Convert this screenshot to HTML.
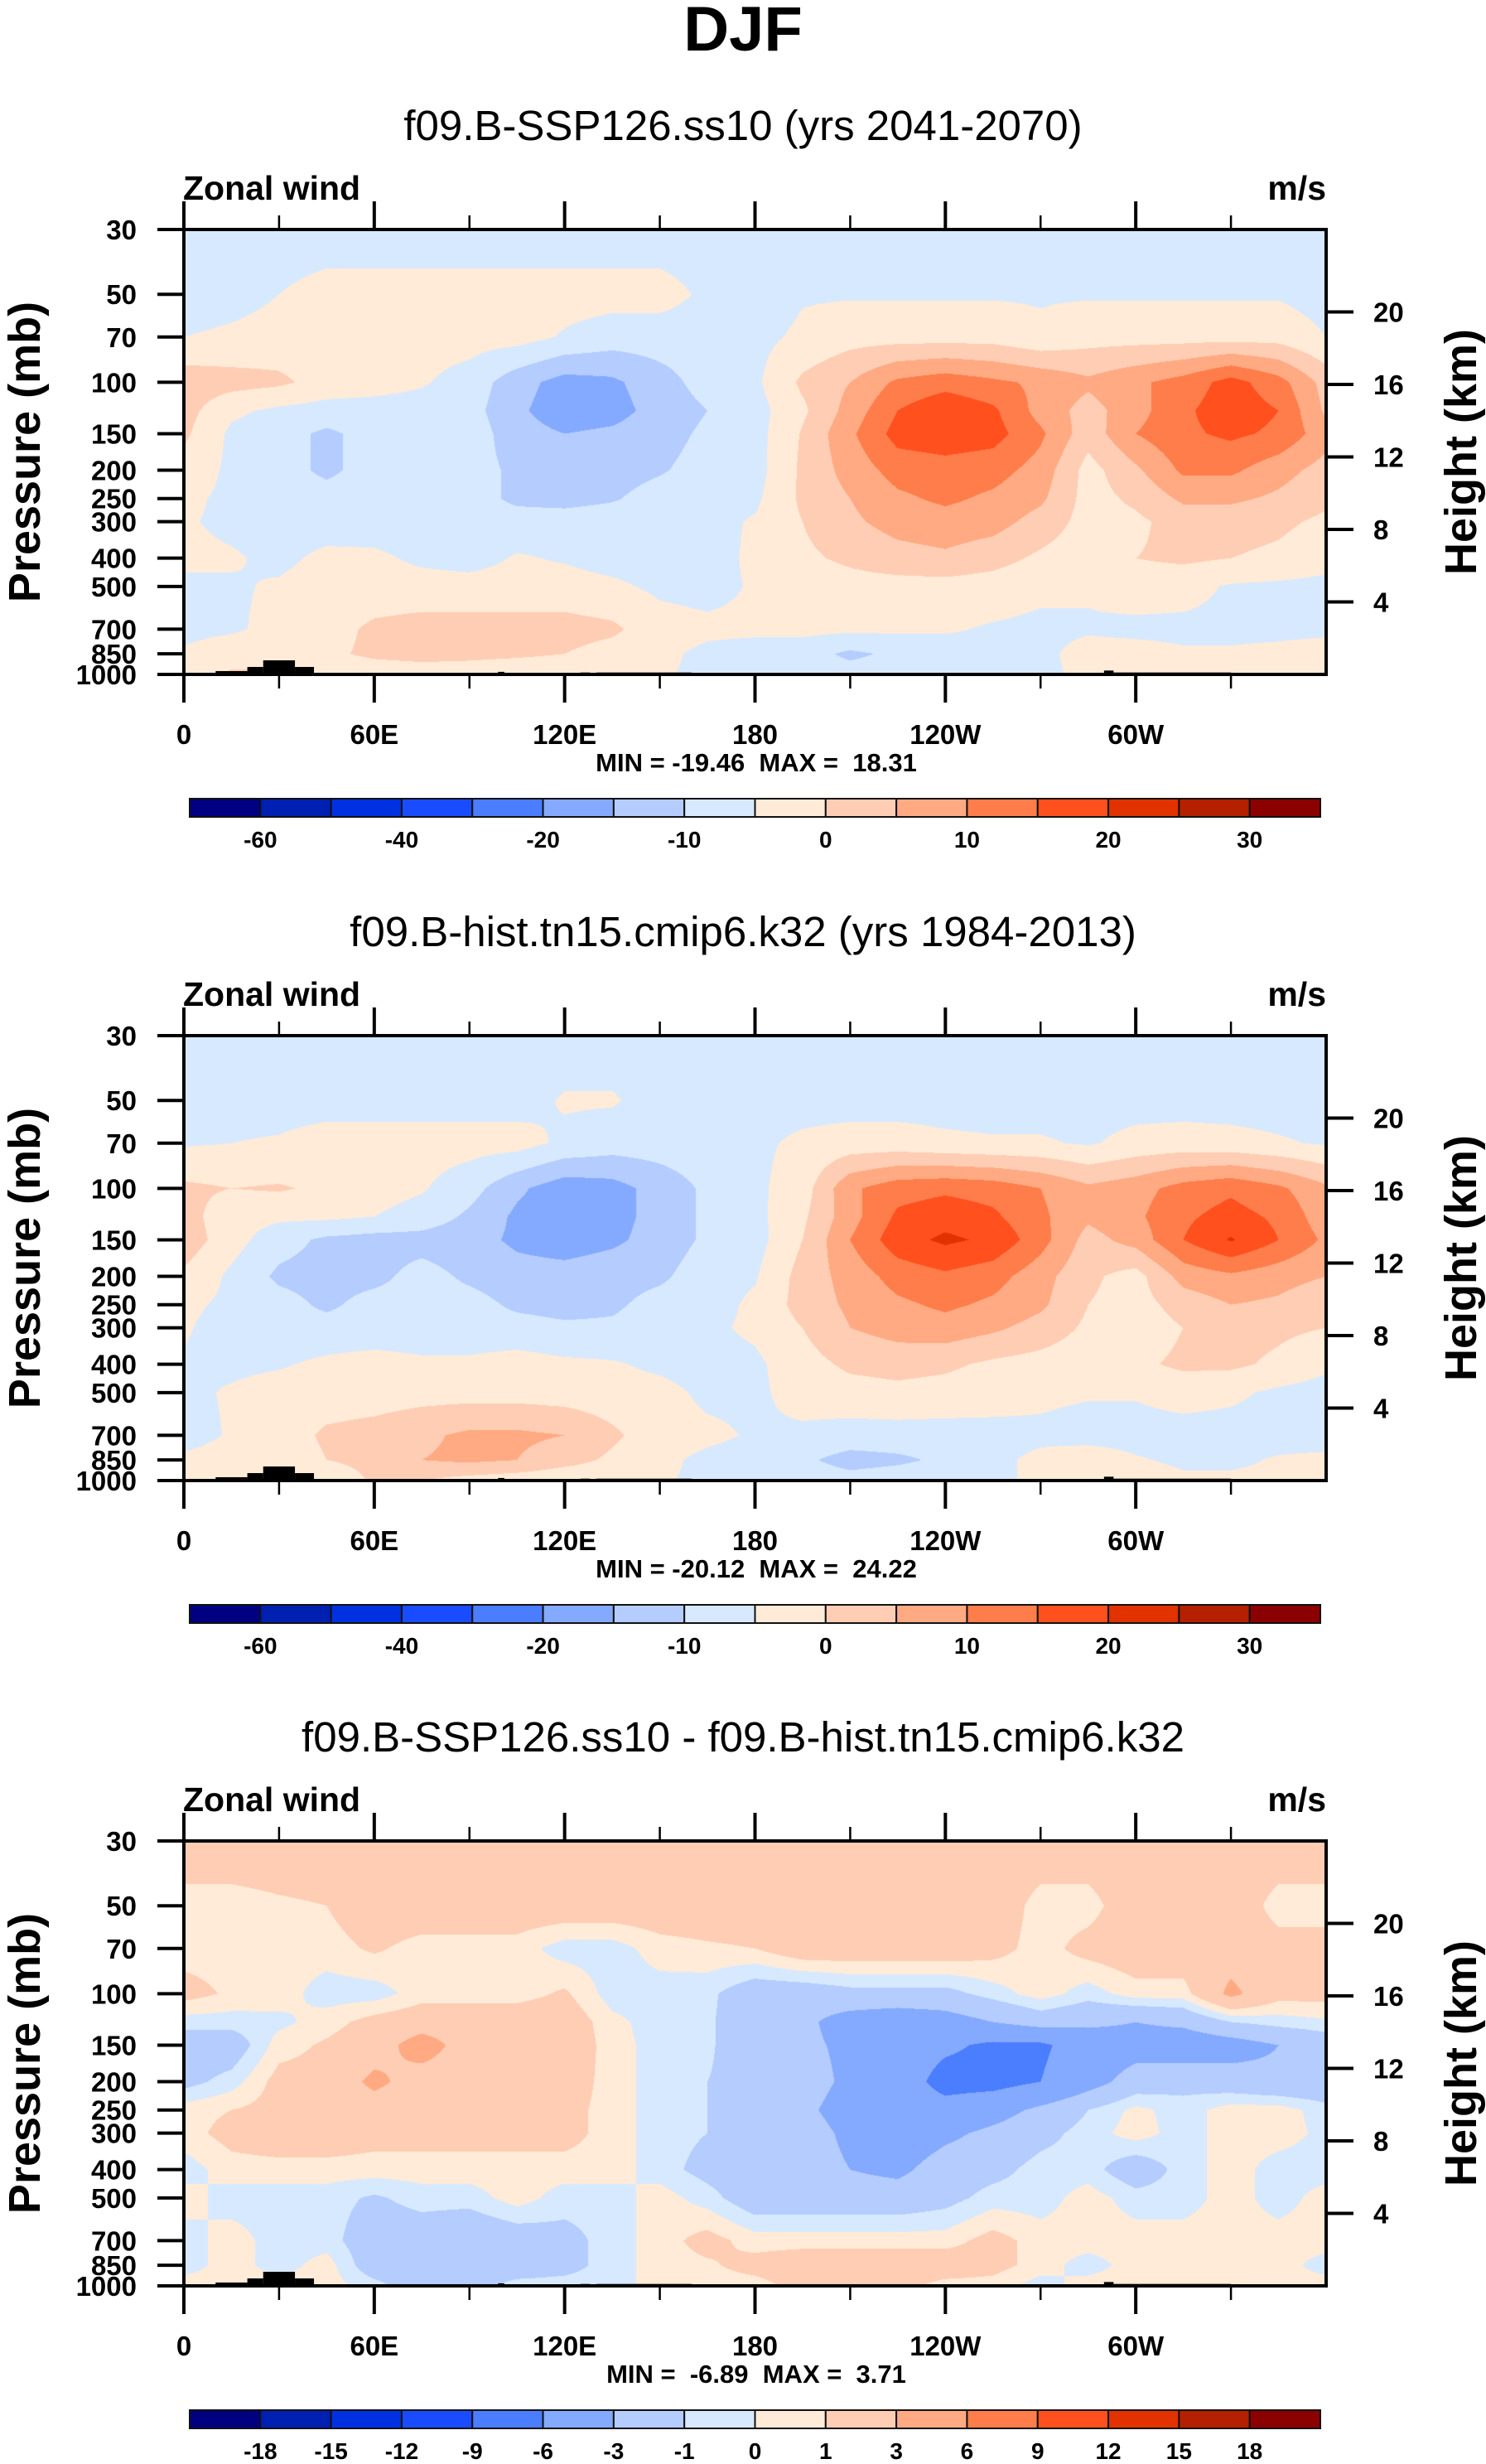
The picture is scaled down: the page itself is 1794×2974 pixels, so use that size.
<!DOCTYPE html>
<html>
<head>
<meta charset="utf-8">
<style>
html,body{margin:0;padding:0;background:#fff;}
body{width:1794px;height:2974px;position:relative;overflow:hidden;font-family:"Liberation Sans",sans-serif;}
canvas{position:absolute;}
#overlay{position:absolute;left:0;top:0;}
</style>
</head>
<body>
<canvas id="f0" width="1379" height="537" style="left:222px;top:277px"></canvas>
<canvas id="f1" width="1379" height="537" style="left:222px;top:1250px"></canvas>
<canvas id="f2" width="1379" height="537" style="left:222px;top:2222px"></canvas>
<svg id="overlay" width="1794" height="2974" xmlns="http://www.w3.org/2000/svg">
<text x="897" y="61" text-anchor="middle" font-family="Liberation Sans, sans-serif" font-weight="bold" font-size="76">DJF</text>
</svg>
<script>
// ---- data ----
const lons = [0,15,30,45,60,75,90,105,120,135,150,165,180,195,210,225,240,255,270,285,300,315,330,345,360];
const pLevels = [30,50,70,100,125,150,200,250,300,400,500,700,850,1000];

const uSsp = [
[-3,-3,-3,-3,-3,-3,-3,-3,-3,-3,-3,-3,-3,-3,-3,-3,-3,-3,-3,-3,-3,-3,-3,-3,-3],
[-3,-2,0,2,2,2,2,2,2,2,2,-1,-3,-0.5,-0.5,-0.5,-0.5,-0.5,-0.5,-0.5,-0.5,-0.5,-0.5,-0.5,-2],
[0,1,2,2,2,2,2,2,-0.5,-2.5,-2.5,-2.5,-1.5,1,3,3,3,3,1,3,3,3,3,3,0],
[8,7,6,3,2,0.5,-2,-8,-12,-11,-7,-3,-1,6,10,16,18,16,14,11,14,17,22,17,8],
[7,1,-1,-2,-2,-2,-3,-9,-13,-12,-8,-5,-2,4,12,20,24,21,13,8,13,19,23,20,9],
[6,-1,-3,-6,-3,-2,-2,-8,-10,-9,-7,-4,-2,5.5,14,22,23,22,16,7,15,19,21,19,12],
[3,-1,-3,-6,-3,-3,-3,-6,-8,-7,-5.5,-3,-2,6,12,17,18,17,13,3,9,16,16,12,8],
[1,-1,-3,-3,-3,-3,-3,-6,-6.5,-5.5,-3,-2,-1,6,10,14,16,14,11,3,6,11,11,9,6],
[0.5,-1,-2,-2,-2.5,-3,-3,-3,-3,-2.5,-2,-1.5,0.5,5,9,12,13,12,8,3,4,7,7,6,4],
[1,0.5,-1,1,1,-1,-2,0.5,-0.5,-2,-2.5,-2,1,4,6,8,9,7,4,2,5,6,5,4,2],
[-1,-0.5,0.5,2,2,2,2,2,2,1,-1,-1.5,0.5,2,3,3,3,2.5,1,0.5,2,1.5,-0.5,-1,-1.5],
[-1,-0.5,1,3,6,7,7,7,7,6,2,1,1,1.5,1,1,0.5,-0.5,-1,-0.5,-1,-1,-1,-1,-1],
[0.5,2,2.5,4,6,7,6.5,6,5,3,1,-1,-2,-3,-6,-4,-2,-1,-1,1.5,1.5,0.5,0.5,1,2],
[1,6,6,2,2,2,2,1,1,1,0.5,-1,-2,-2,-3,-2,-2,-1,-1,1,5,2,1,1,1]
];

const uHist = [
[-3,-3,-3,-3,-3,-3,-3,-3,-3,-3,-3,-3,-3,-3,-3,-3,-3,-3,-3,-3,-3,-3,-3,-3,-3],
[-2,-2,-2,-2,-2,-2,-2,-2,0.5,0.5,-2,-2,-2,-2,-2,-2,-2,-2,-2,-2,-2,-2,-2,-2,-2],
[-0.5,0,0.5,2,2,2,2,2,-1,-2.5,-2.5,-2,-1,1,2,2,1,0.5,0.5,-0.5,1.5,2,1.5,0.5,-0.5],
[6,5,5.5,4,2,0.5,-3,-9,-13,-12,-8,-4,-1,2.5,14,18,19,18,15,11,13,17,19,16,11],
[7,2,1,1,0,-2,-6,-11,-13,-12,-8,-4,-1.5,4,13,21,23,21,16,11,14,19,22,19,12],
[8,2,-3,-6,-7,-7,-8,-11,-12.5,-11,-8,-4,-2,5,15,23,26,24,17,8,12,20,25.5,20,14],
[4,-1,-6,-7,-6.5,-3,-6,-8,-8,-7,-6,-2,-0.5,7,12,17,19,17,12,6,3,12,14,12,10],
[1,-1,-3,-6,-3,-3,-3,-6,-7,-6,-3,-2,1,7,11,14,16,14,11,5,3,7,10,9,6],
[0.5,-2,-3,-3,-3,-3,-3,-3,-4,-4,-2,-1,1,5,10,12,13,11,8,4,2,5,7,6,5],
[-0.5,-1,-0.5,1,2,1,1,2,1,0.5,-1,-2,-1,3,6,7,6,4,3,2,4,6,6,4,1],
[-1,0.5,2,2,2.5,3,3,3,2.5,2,1.5,-1,-1,2,3,3.5,3,2,1,0.5,0.5,2,1,-1,-2],
[-2,0.5,2,6,7,9,11,11,10,6,2,1,-0.5,-1,-2,-2,-2,-1.5,-1,-2,-2,-2,-2,-2,-2],
[1,2,1,5,7,10,11,10,7,4,1,-1,-2,-4,-7,-6,-4,-1,1,3,0.5,-1,-1,0.5,1],
[2,4,5,0,6,5,3,2,1,1,0.5,-1,-2,-2,-3,-2,-2,-1,1,2,3,1,1,1,1]
];

const uDiff = [
[2,2,2,2,2,2,2,2,2,2,2,2,2,2,2,2,2,2,2,2,2,2,2,2,2],
[0.5,0.5,0.8,1,2,2,2,2,2,2,2,2,2,2,2,2,2,2,0.5,0.5,2,2,2,0.5,0.5],
[0.5,0.5,0.5,0.5,1.2,0.5,0.5,0.5,-0.5,-0.5,0.5,0.8,1,2,2,2,2,1.5,0.5,1.5,2,2,2,1.5,1.5],
[1.5,0.8,0.5,-0.5,-0.5,0.5,0.5,0.5,1.2,-0.5,-0.5,-0.7,-2,-2,-1.5,-1.5,-1.5,-0.5,0.5,-0.5,0.5,0.5,3.5,1.5,1.5],
[-0.5,-0.5,-0.3,0.5,1.5,2,2,2,2,0.3,-0.5,-0.8,-2,-2.5,-4,-4.5,-4,-3,-2,-2.5,-3,-2.5,-1,-0.5,-0.2],
[-2,-2,0.5,1.2,2,4,2,2,2,0.5,-0.5,-0.8,-2,-2.5,-3.5,-4.5,-5.5,-6.5,-6.5,-4.5,-4,-4.5,-4,-3,-2],
[-1.5,-0.5,1.5,1.5,3.5,2,2,2,1.8,0.5,-0.5,-1,-1.5,-2,-3.5,-4.5,-7,-7,-6,-4,-2,-1.5,-2,-2.5,-2.5],
[0.5,1,1.5,2,2,2,1.5,2,1.5,0.5,-0.5,-1,-2,-2.5,-4,-4.5,-5,-4,-2.5,-1,0.3,-0.5,0.5,0.5,-0.5],
[0.5,1.5,2,2,1.5,1.5,1.5,1.5,1.5,0.5,-0.5,-1,-2,-2,-3.5,-4.5,-3.5,-2.5,-1.5,-0.5,0.5,-0.5,0.5,0.5,-0.3],
[-0.5,0.5,0.5,0.5,0.5,0.5,0.5,0.5,0.5,0.5,-0.5,-1.5,-2,-2,-3,-3.5,-2,-1.5,-0.5,-0.5,-2,-0.5,0.5,-0.5,-0.5],
[0.5,-0.5,-0.5,-0.5,-1.2,-0.5,-0.5,0.5,-0.5,-0.5,0.5,-0.5,-2,-2,-2,-2,-1.5,-0.5,-0.5,0.5,-0.5,-0.5,0.5,-0.5,0.5],
[-0.5,0.5,-0.5,-0.5,-2,-2,-2.5,-2,-1.5,-0.5,0.5,1.5,0.5,0.5,0.5,0.5,0.5,1.5,0.5,0.5,0.5,0.5,0.5,0.5,0.5],
[-0.5,0.5,-0.5,0.5,-2,-2.5,-2.5,-2,-1.5,-0.5,0.5,0.8,1.5,2,2,2,2,1.5,0.5,-0.5,0.5,0.5,0.5,0.5,-0.5],
[0.5,0.5,0.5,0.5,-0.5,-2,-1.5,-0.5,-0.5,-0.5,0.5,0.5,0.5,1.5,2,1.5,0.5,0.5,-0.5,0.5,0.5,0.5,0.5,0.5,0.5]
];

const levelsWind = [-50,-40,-30,-20,-15,-10,-5,0,5,10,15,20,25,30,35];
const levelsDiff = [-18,-15,-12,-9,-6,-3,-1,0,1,3,6,9,12,15,18];
const cbLabelsWind = ['-60','-40','-20','-10','0','10','20','30'];
const cbLabelIdxWind = [1,3,5,7,9,11,13,15];
const cbLabelsDiff = ['-18','-15','-12','-9','-6','-3','-1','0','1','3','6','9','12','15','18'];
const cbLabelIdxDiff = [1,2,3,4,5,6,7,8,9,10,11,12,13,14,15];
const palette = ['#000080','#0020B2','#0031E1','#1A4CFF','#4B7DFF','#84AAFF','#B4CCFF','#D7E9FF','#FFEBD7','#FFCDB4','#FFAA82','#FF7D4B','#FF501E','#E13200','#B42000','#8B0000'];

const xTickLabels = ['0','60E','120E','180','120W','60W'];
const xTickLons = [0,60,120,180,240,300];
const xMinorLons = [30,90,150,210,270,330];
const pTickLabels = ['30','50','70','100','150','200','250','300','400','500','700','850','1000'];
const pTickVals = [30,50,70,100,150,200,250,300,400,500,700,850,1000];
const hTickVals = [4,8,12,16,20];

const topoLon0 = [10,20,25,35,99,125,130,290,293];
const topoLon1 = [20,25,35,41,101,128,160,293,330];
const topoP = [974,943,895,943,980,985,985,970,985];

const titles = ['f09.B-SSP126.ss10 (yrs 2041-2070)','f09.B-hist.tn15.cmip6.k32 (yrs 1984-2013)','f09.B-SSP126.ss10 - f09.B-hist.tn15.cmip6.k32'];
const minMaxText = ['MIN = -19.46  MAX =  18.31','MIN = -20.12  MAX =  24.22','MIN =  -6.89  MAX =  3.71'];

// ---- geometry ----
const LEFT=222, W=1379, H=537, TOPS=[277,1250,2222];
const LNR = Math.log(1000/30);
function xOfLon(l){return l/360*W;}
function yOfP(p){return Math.log(p/30)/LNR*H;}
function pOfY(y){return 30*Math.exp(y/H*LNR);}
function hexToRgb(h){return [parseInt(h.slice(1,3),16),parseInt(h.slice(3,5),16),parseInt(h.slice(5,7),16)];}
const palRgb = palette.map(hexToRgb);

function drawField(canvasId, grid, levels){
  const cv=document.getElementById(canvasId);
  const ctx=cv.getContext('2d');
  const img=ctx.createImageData(W,H);
  const logP=pLevels.map(Math.log);
  for(let py=0;py<H;py++){
    const lp=Math.log(pOfY(py+0.5));
    let j=0; while(j<pLevels.length-2 && lp>logP[j+1]) j++;
    let t=(lp-logP[j])/(logP[j+1]-logP[j]); t=Math.max(0,Math.min(1,t));
    const r0=grid[j], r1=grid[j+1];
    for(let px=0;px<W;px++){
      const lon=(px+0.5)/W*360;
      let i=Math.min(lons.length-2,Math.floor(lon/15));
      const s=(lon-lons[i])/(lons[i+1]-lons[i]);
      const v=(1-t)*((1-s)*r0[i]+s*r0[i+1])+t*((1-s)*r1[i]+s*r1[i+1]);
      let k=0; while(k<levels.length && v>=levels[k]) k++;
      const c=palRgb[k]; const o=(py*W+px)*4;
      img.data[o]=c[0];img.data[o+1]=c[1];img.data[o+2]=c[2];img.data[o+3]=255;
    }
  }
  ctx.putImageData(img,0,0);
}
drawField('f0',uSsp,levelsWind);
drawField('f1',uHist,levelsWind);
drawField('f2',uDiff,levelsDiff);

// ---- overlay ----
const svg=document.getElementById('overlay');
const NS='http://www.w3.org/2000/svg';
function mk(tag,attrs,parent){const e=document.createElementNS(NS,tag);for(const k in attrs)e.setAttribute(k,attrs[k]);(parent||svg).appendChild(e);return e;}
function txt(str,attrs,parent){const e=mk('text',Object.assign({'font-family':'Liberation Sans, sans-serif'},attrs),parent);e.textContent=str;return e;}

for(let k=0;k<3;k++){
  const T=TOPS[k];
  const g=mk('g',{transform:'translate('+LEFT+','+T+')'});
  
  
  for(let i=0;i<topoP.length;i++){
    const x0=xOfLon(topoLon0[i]), x1=xOfLon(topoLon1[i]), y0=yOfP(topoP[i]);
    const r=mk('rect',{x:x0,y:y0,width:x1-x0,height:H-y0,fill:'#000'},g);
    
    
  }
  const fr=mk('rect',{x:0,y:0,width:W,height:H,fill:'none',stroke:'#000','stroke-width':4},g);
  
  
  for(let i=0;i<xTickLons.length;i++){
    const x=xOfLon(xTickLons[i]);
    const t1=mk('line',{x1:x,x2:x,y1:H,y2:H+34,stroke:'#000','stroke-width':4},g);
    
    
    const t2=mk('line',{x1:x,x2:x,y1:0,y2:-34,stroke:'#000','stroke-width':4},g);
    
    
    const lb=txt(xTickLabels[i],{x:x,y:H+84,'text-anchor':'middle','font-weight':'bold','font-size':33},g);
    
    
  }
  for(let i=0;i<xMinorLons.length;i++){
    const x=xOfLon(xMinorLons[i]);
    const t1=mk('line',{x1:x,x2:x,y1:H,y2:H+17,stroke:'#000','stroke-width':2.5},g);
    
    
    const t2=mk('line',{x1:x,x2:x,y1:0,y2:-17,stroke:'#000','stroke-width':2.5},g);
    
    
  }
  for(let i=0;i<pTickVals.length;i++){
    const y=yOfP(pTickVals[i]);
    const t=mk('line',{x1:-32,x2:0,y1:y,y2:y,stroke:'#000','stroke-width':4},g);
    
    
    const lb=txt(pTickLabels[i],{x:-57,y:y+12,'text-anchor':'end','font-weight':'bold','font-size':33},g);
    
    
  }
  for(let i=0;i<hTickVals.length;i++){
    const p=1000*Math.exp(-hTickVals[i]/7);
    const y=yOfP(p);
    const t=mk('line',{x1:W,x2:W+33,y1:y,y2:y,stroke:'#000','stroke-width':4},g);
    
    
    const lb=txt(String(hTickVals[i]),{x:W+57,y:y+12,'text-anchor':'start','font-weight':'bold','font-size':33},g);
    
    
  }
  const st=txt(titles[k],{x:897-LEFT,y:-108,'text-anchor':'middle','font-size':51},g);
  
  
  const zw=txt('Zonal wind',{x:-1,y:-36,'font-weight':'bold','font-size':41},g);
  
  
  const un=txt('m/s',{x:W,y:-36,'text-anchor':'end','font-weight':'bold','font-size':41},g);
  
  
  const yt=txt('Pressure (mb)',{x:0,y:0,'text-anchor':'middle','font-weight':'bold','font-size':54,transform:'translate('+(48-LEFT)+','+(H/2)+') rotate(-90)'},g);
  
  
  const ht=txt('Height (km)',{x:0,y:0,'text-anchor':'middle','font-weight':'bold','font-size':54,transform:'translate('+(1782-LEFT)+','+(H/2)+') rotate(-90)'},g);
  
  
  const mm=txt(minMaxText[k],{x:913-LEFT,y:H+117,'text-anchor':'middle','font-weight':'bold','font-size':31},g);
  mm.setAttribute('style','white-space:pre');
  
  
  const cb=mk('g',{transform:'translate(229,'+(T+687)+')'});
  
  
  const cw=1365/16;
  for(let i=0;i<16;i++){
    const r=mk('rect',{x:i*cw,y:0,width:cw,height:22,fill:palette[i],stroke:'#111','stroke-width':2},cb);
    
    
  }
  const labs=k<2?cbLabelsWind:cbLabelsDiff, idx=k<2?cbLabelIdxWind:cbLabelIdxDiff;
  for(let i=0;i<labs.length;i++){
    const lb=txt(labs[i],{x:idx[i]*cw,y:59,'text-anchor':'middle','font-weight':'bold','font-size':28},cb);
    
    
  }
}
</script>
</body>
</html>
